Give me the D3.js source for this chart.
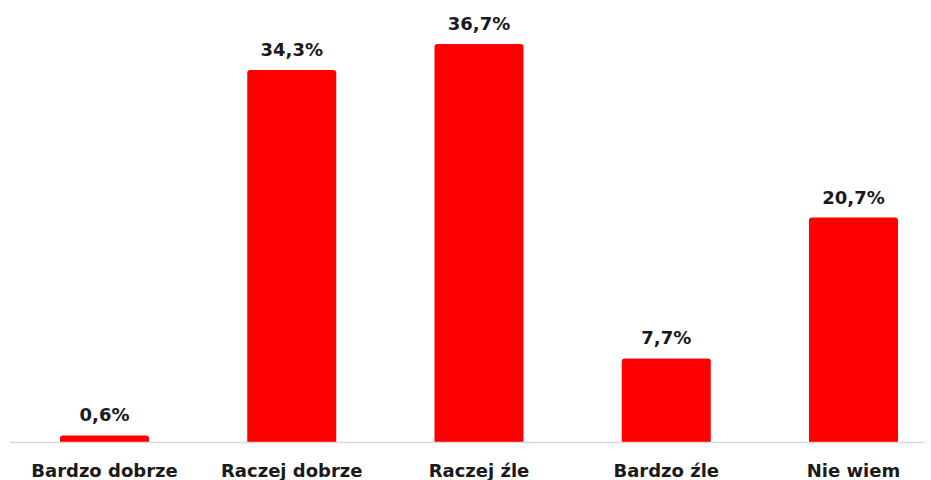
<!DOCTYPE html>
<html>
<head>
<meta charset="utf-8">
<script src="https://cdn.jsdelivr.net/npm/d3@7"></script>
<style>
  body { margin: 0; background: #fff; }
  svg text { font-family: "DejaVu Sans", Verdana, sans-serif; font-weight: bold; fill: #1a1a1a; }
</style>
</head>
<body>
<div class="chart"></div>
<script>
const categories = ['Bardzo dobrze', 'Raczej dobrze', 'Raczej źle', 'Bardzo źle', 'Nie wiem'];
const values = [0.6, 34.3, 36.7, 7.7, 20.7];
const valueLabels = ['0,6%', '34,3%', '36,7%', '7,7%', '20,7%'];

const svgWidth = 931;
const svgHeight = 480;
const baseline = 442;

const data = categories.map((c, i) => ({ cat: c, value: values[i], label: valueLabels[i] }));

const xScale = d3.scaleBand().domain(categories).range([10, 948]).paddingInner(0.5247).paddingOuter(0.267);
const yScale = d3.scaleLinear().domain([0, 36.7]).range([baseline, 44]);

const svg = d3.select('.chart')
    .append('svg')
    .attr('width', svgWidth)
    .attr('height', svgHeight);

// bars, rounded on top only
svg.selectAll('path.bar')
    .data(data)
    .join('path')
    .attr('class', 'bar')
    .attr('fill', '#ff0000')
    .attr('d', (d) => {
        const x = xScale(d.cat), w = xScale.bandwidth();
        const y = yScale(d.value), h = baseline - y;
        const r = Math.min(3, h / 2);
        return `M${x},${baseline}V${y + r}Q${x},${y} ${x + r},${y}H${x + w - r}Q${x + w},${y} ${x + w},${y + r}V${baseline}Z`;
    });

// axis line
svg.append('line')
    .attr('x1', 10).attr('x2', 925)
    .attr('y1', baseline + 0.5).attr('y2', baseline + 0.5)
    .attr('stroke', '#d9d9d9')
    .attr('stroke-width', 1.5);

// value labels
svg.selectAll('text.value')
    .data(data)
    .join('text')
    .attr('class', 'value')
    .attr('x', (d) => xScale(d.cat) + xScale.bandwidth() / 2)
    .attr('y', (d) => yScale(d.value) - 14)
    .attr('text-anchor', 'middle')
    .attr('font-size', '18px')
    .text((d) => d.label);

// category labels
svg.selectAll('text.cat')
    .data(data)
    .join('text')
    .attr('class', 'cat')
    .attr('x', (d) => xScale(d.cat) + xScale.bandwidth() / 2)
    .attr('y', 477)
    .attr('text-anchor', 'middle')
    .attr('font-size', '18px')
    .text((d) => d.cat);
</script>
</body>
</html>
